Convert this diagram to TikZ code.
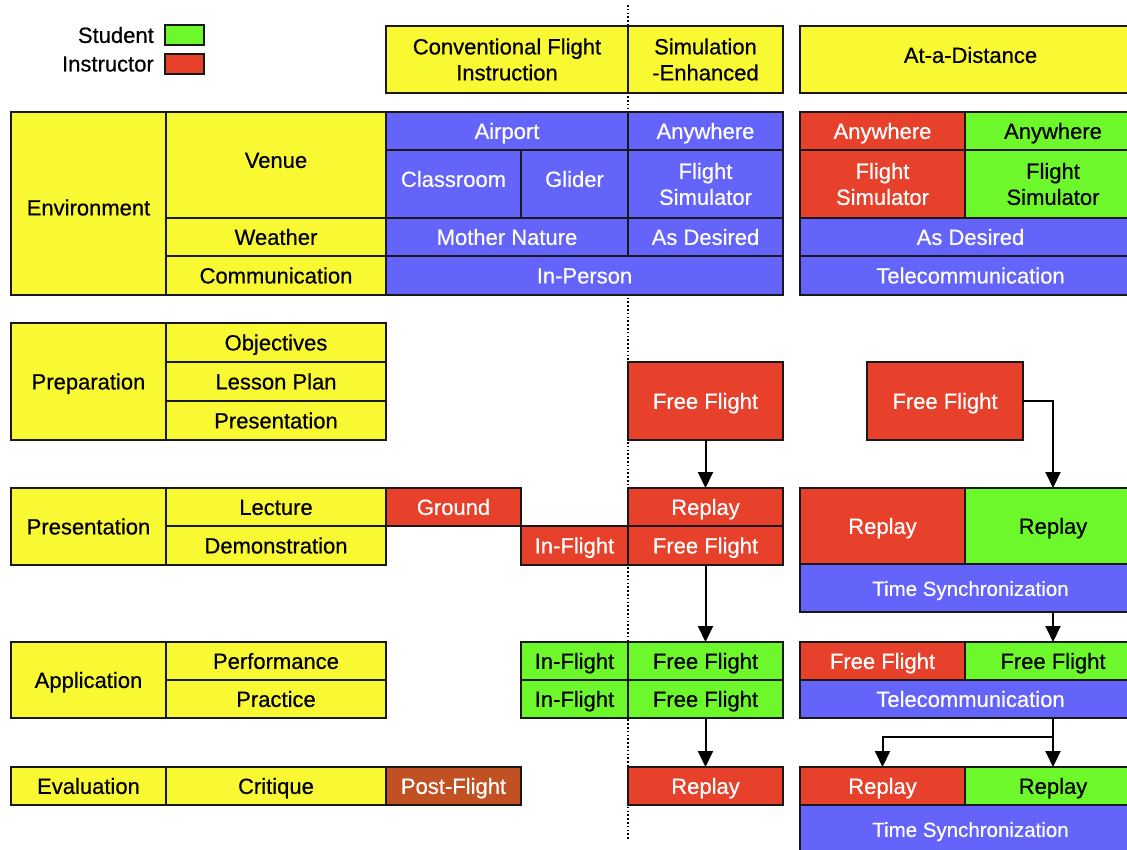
\documentclass[tikz,border=0pt]{standalone}
\usepackage{fontspec}
\setmainfont{Liberation Sans}[FakeBold=0.5]
\usetikzlibrary{arrows.meta,calc}
\definecolor{cyel}{RGB}{248,248,51}
\definecolor{cblu}{RGB}{100,100,250}
\definecolor{cred}{RGB}{232,65,43}
\definecolor{cgrn}{RGB}{108,248,42}
\definecolor{cbrn}{RGB}{193,80,35}
\definecolor{cline}{RGB}{25,25,25}
\tikzset{
  cellbase/.style={draw=cline, line width=2pt, inner sep=0pt, outer sep=0pt, align=center,
    font=\fontsize{22}{26}\selectfont},
  yel/.style={cellbase, fill=cyel, text=black},
  blu/.style={cellbase, fill=cblu, text=white},
  red/.style={cellbase, fill=cred, text=white},
  grn/.style={cellbase, fill=cgrn, text=black},
  brn/.style={cellbase, fill=cbrn, text=white},
  oneline/.style={text height=17.9pt, text depth=2.1pt},
  small/.style={font=\fontsize{20.5}{24}\selectfont, text height=17.3pt, text depth=2.7pt},
  arr/.style={draw=black, line width=2pt, -{Triangle[width=15pt,length=16pt]}},
  lbl/.style={font=\fontsize{22}{26}\selectfont, anchor=east, inner sep=0pt},
}
\newcommand{\cellbox}[7]{%
  \node[#6, oneline, minimum width={(#4-#2)*1pt}, minimum height={(#5-#3)*1pt}] (#1) at ({(#2+#4)/2},{(#3+#5)/2}) {#7};}
\newcommand{\cellboxm}[7]{%
  \node[#6, minimum width={(#4-#2)*1pt}, minimum height={(#5-#3)*1pt}] (#1) at ({(#2+#4)/2},{(#3+#5)/2}) {#7};}
\begin{document}
\begin{tikzpicture}[x=1pt,y=-1pt]
\useasboundingbox (0,0) rectangle (1127,849);
\fill[white] (0,0) rectangle (1127,849);
\clip (0,0) rectangle (1127,849);
% dotted divider
\coordinate (dtop) at (628,5);
\coordinate (dbot) at (628,840);
\draw[black, line width=1.6pt, dash pattern=on 1.6pt off 2.2pt] (dtop) -- (dbot);
% legend
\cellbox{legs}{165}{26}{204}{44}{grn}{}
\cellbox{legi}{165}{54}{204}{74}{red}{}
\node[lbl] (legst) at (154,35) {Student};
\node[lbl] (legin) at (154,64) {Instructor};
% headers
\cellboxm{conv}{386}{26}{628}{93}{yel}{Conventional Flight\\Instruction}
\cellboxm{sime}{628}{26}{783}{93}{yel}{Simulation\\-Enhanced}
\cellbox{atd}{800}{26}{1141}{93}{yel}{\raisebox{4.5pt}{At-a-Distance}}
% environment
\cellbox{env}{11}{112}{166}{295}{yel}{\raisebox{-4pt}{Environment}}
\cellbox{venue}{166}{112}{386}{218}{yel}{\raisebox{5pt}{Venue}}
\cellbox{weather}{166}{218}{386}{256}{yel}{Weather}
\cellbox{comm}{166}{256}{386}{295}{yel}{Communication}
\cellbox{airport}{386}{112}{628}{150}{blu}{Airport}
\cellbox{anyw}{628}{112}{783}{150}{blu}{Anywhere}
\cellbox{classroom}{386}{150}{521}{218}{blu}{\raisebox{5pt}{Classroom}}
\cellbox{glider}{521}{150}{628}{218}{blu}{\raisebox{5pt}{Glider}}
\cellboxm{fsim}{628}{150}{783}{218}{blu}{Flight\\Simulator}
\cellbox{mn}{386}{218}{628}{256}{blu}{Mother Nature}
\cellbox{asd}{628}{218}{783}{256}{blu}{As Desired}
\cellbox{inp}{386}{256}{783}{295}{blu}{In-Person}
\cellbox{anyr}{800}{112}{965}{150}{red}{Anywhere}
\cellbox{anyg}{965}{112}{1141}{150}{grn}{Anywhere}
\cellboxm{fsr}{800}{150}{965}{218}{red}{Flight\\Simulator}
\cellboxm{fsg}{965}{150}{1141}{218}{grn}{Flight\\Simulator}
\cellbox{asd2}{800}{218}{1141}{256}{blu}{As Desired}
\cellbox{tel1}{800}{256}{1141}{295}{blu}{Telecommunication}
% preparation
\cellbox{prep}{11}{323}{166}{440}{yel}{Preparation}
\cellbox{obj}{166}{323}{386}{362}{yel}{Objectives}
\cellbox{lp}{166}{362}{386}{401}{yel}{Lesson Plan}
\cellbox{pres}{166}{401}{386}{440}{yel}{Presentation}
\cellbox{ffs}{628}{362}{783}{440}{red}{Free Flight}
\cellbox{ffd}{867}{362}{1023}{440}{red}{Free Flight}
% presentation
\cellbox{presn}{11}{488}{166}{565}{yel}{Presentation}
\cellbox{lect}{166}{488}{386}{526}{yel}{Lecture}
\cellbox{demo}{166}{526}{386}{565}{yel}{Demonstration}
\cellbox{ground}{386}{488}{521}{526}{red}{Ground}
\cellbox{infl}{521}{526}{628}{565}{red}{In-Flight}
\cellbox{rps}{628}{488}{783}{526}{red}{Replay}
\cellbox{ffr}{628}{526}{783}{565}{red}{Free Flight}
\cellbox{rpr}{800}{488}{965}{564}{red}{Replay}
\cellbox{rpg}{965}{488}{1141}{564}{grn}{Replay}
\cellbox{ts1}{800}{564}{1141}{612}{blu,small}{Time Synchronization}
% application
\cellbox{app}{11}{642}{166}{718}{yel}{Application}
\cellbox{perf}{166}{642}{386}{680}{yel}{Performance}
\cellbox{prac}{166}{680}{386}{718}{yel}{Practice}
\cellbox{gif1}{521}{642}{628}{680}{grn}{In-Flight}
\cellbox{gff1}{628}{642}{783}{680}{grn}{Free Flight}
\cellbox{gif2}{521}{680}{628}{718}{grn}{In-Flight}
\cellbox{gff2}{628}{680}{783}{718}{grn}{Free Flight}
\cellbox{dffr}{800}{642}{965}{680}{red}{Free Flight}
\cellbox{dffg}{965}{642}{1141}{680}{grn}{Free Flight}
\cellbox{tc2}{800}{680}{1141}{718}{blu}{Telecommunication}
% evaluation
\cellbox{eval}{11}{767}{166}{805}{yel}{Evaluation}
\cellbox{crit}{166}{767}{386}{805}{yel}{Critique}
\cellbox{post}{386}{767}{521}{805}{brn}{Post-Flight}
\cellbox{rpe}{628}{767}{783}{805}{red}{Replay}
\cellbox{rr3}{800}{767}{965}{805}{red}{Replay}
\cellbox{rg3}{965}{767}{1141}{805}{grn}{Replay}
\cellbox{ts2}{800}{805}{1141}{853}{blu,small}{Time Synchronization}
% connectors
\draw[arr] (ffs.south) -- (rps.north);
\draw[arr] (ffr.south) -- (gff1.north);
\draw[arr] (gff2.south) -- (rpe.north);
\draw[arr] (ffd.east) -| (rpg.north);
\draw[arr] (ts1.south -| dffg.north) -- (dffg.north);
\coordinate (br) at (1053,737);
\draw[arr] (tc2.south -| rg3.north) -- (rg3.north);
\draw[arr] (br) -| (rr3.north);
\end{tikzpicture}
\end{document}
